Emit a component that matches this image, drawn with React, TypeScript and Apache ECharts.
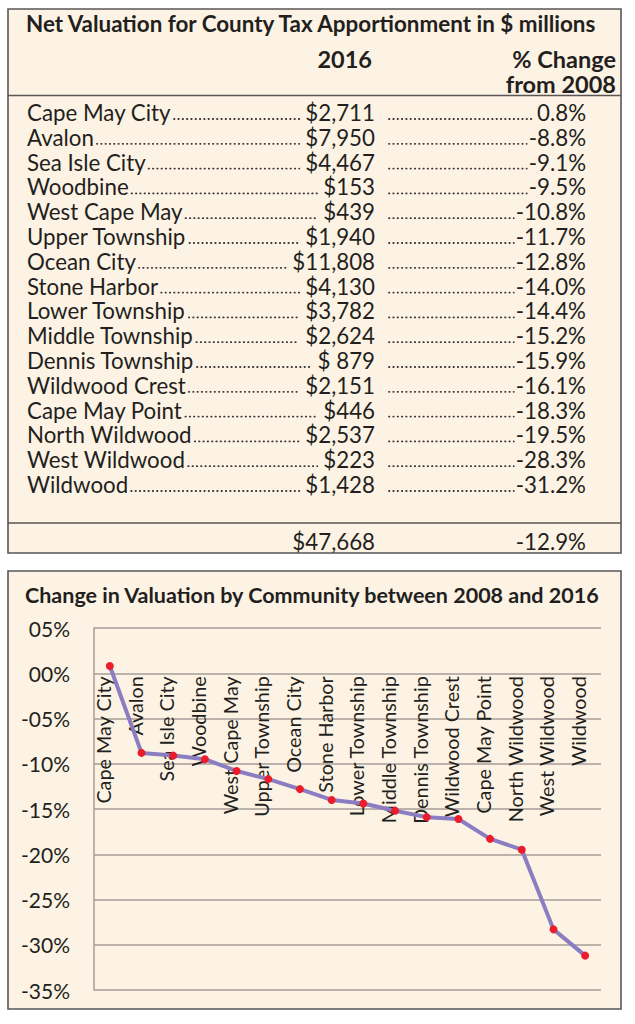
import React, { useEffect, useRef } from "react";
import * as echarts from "echarts";

const communities = [
  "Cape May City", "Avalon", "Sea Isle City", "Woodbine", "West Cape May",
  "Upper Township", "Ocean City", "Stone Harbor", "Lower Township", "Middle Township",
  "Dennis Township", "Wildwood Crest", "Cape May Point", "North Wildwood", "West Wildwood", "Wildwood",
];
const valuation2016 = [
  "$2,711", "$7,950", "$4,467", "$153", "$439", "$1,940", "$11,808", "$4,130",
  "$3,782", "$2,624", "$ 879", "$2,151", "$446", "$2,537", "$223", "$1,428",
];
const pctChange = [0.8, -8.8, -9.1, -9.5, -10.8, -11.7, -12.8, -14.0, -14.4, -15.2, -15.9, -16.1, -18.3, -19.5, -28.3, -31.2];
const totalValuation = "$47,668";
const totalChange = "-12.9%";
const yTicks = { min: -35, max: 5, interval: 5 };

const tableTitle = "Net Valuation for County Tax Apportionment in $ millions";
const chartTitle = "Change in Valuation by Community between 2008 and 2016";

const FONT = "Lato";
const INK = "#231f20";
const BG = "#fdf3e4";
const BORDER = "#5a5655";
const GRIDC = "#a39d98";

function measure(text: string, size: number, bold = false) {
  const c = document.createElement("canvas").getContext("2d")!;
  c.font = `${bold ? "bold " : ""}${size}px ${FONT}`;
  return c.measureText(text).width;
}

export default function App() {
  const ref = useRef<HTMLDivElement>(null);
  useEffect(() => {
    if (!ref.current) return;
    const chart = echarts.init(ref.current, null, { renderer: "svg" });

    const rowFs = 22.3;
    const headFs = 23.5;
    const titleFs = Math.min(23, (23 * 573) / measure(tableTitle, 23, true));
    const chartTitleFs = Math.min(23, (23 * 576) / measure(chartTitle, 23, true));
    const nameX = 27;
    const valRight = 375;
    const pctRight = 586;
    const row0 = 112.5;
    const rowStep = 24.8;

    const els: any[] = [];
    els.push({ type: "rect", z: -10, shape: { x: 8, y: 9, width: 613, height: 544 }, style: { fill: BG, stroke: BORDER, lineWidth: 1.6 } });
    els.push({ type: "rect", z: -10, shape: { x: 8, y: 571, width: 613, height: 438 }, style: { fill: BG, stroke: BORDER, lineWidth: 1.6 } });
    els.push({ type: "line", z: -9, shape: { x1: 8, y1: 95.5, x2: 621, y2: 95.5 }, style: { stroke: BORDER, lineWidth: 1.4 } });
    els.push({ type: "line", z: -9, shape: { x1: 8, y1: 523, x2: 621, y2: 523 }, style: { stroke: BORDER, lineWidth: 1.4 } });

    const txt = (text: string, x: number, y: number, fs: number, align: string, bold = false, lh?: number) => ({
      type: "text", z: 5, x, y,
      style: {
        text, fontFamily: FONT, fontSize: fs, fontWeight: bold ? "bold" : "normal", fill: INK,
        textAlign: align, textVerticalAlign: "middle", verticalAlign: "middle",
        ...(lh ? { lineHeight: lh } : {}),
      },
    });

    els.push(txt(tableTitle, 26, 23, titleFs, "left", true));
    els.push(txt("2016", 372, 59, headFs, "right", true));
    els.push(txt("% Change\nfrom 2008", 616, 71.5, headFs, "right", true, 25));

    const dotStyle = { stroke: "#3a3637", lineWidth: 1.8, lineDash: [0.4, 3.9], lineCap: "round" };
    communities.forEach((name, i) => {
      const y = row0 + i * rowStep;
      const pctText = pctChange[i].toFixed(1) + "%";
      els.push(txt(name, nameX, y, rowFs, "left"));
      els.push(txt(valuation2016[i], valRight, y, rowFs, "right"));
      els.push(txt(pctText, pctRight, y, rowFs, "right"));
      const nw = measure(name, rowFs);
      const vw = measure(valuation2016[i], rowFs);
      const pw = measure(pctText, rowFs);
      const by = y + 6.5;
      els.push({ type: "line", z: 4, shape: { x1: nameX + nw + 3, y1: by, x2: valRight - vw - 6, y2: by }, style: dotStyle });
      els.push({ type: "line", z: 4, shape: { x1: 389, y1: by, x2: pctRight - pw - 2, y2: by }, style: dotStyle });
    });
    els.push(txt(totalValuation, valRight, 541, rowFs, "right"));
    els.push(txt(totalChange, pctRight, 541, rowFs, "right"));

    els.push(txt(chartTitle, 25, 595, chartTitleFs, "left", true));

    const pad2 = (v: number) => (v < 0 ? "-" : "") + String(Math.abs(v)).padStart(2, "0") + "%";

    const gridTop = 628;
    const gridBottom = 34;
    const gridH = 1024 - gridTop - gridBottom;
    // move the top-positioned category axis down onto the 0% value
    const zeroOffset = -(gridH * (yTicks.max - 0)) / (yTicks.max - yTicks.min);

    chart.setOption({
      animation: false,
      backgroundColor: "#ffffff",
      graphic: { elements: els },
      grid: { left: 94, right: 34, top: gridTop, bottom: gridBottom, containLabel: false, outerBoundsMode: "none" },
      xAxis: {
        type: "category",
        data: communities,
        position: "top",
        offset: zeroOffset,
        boundaryGap: true,
        axisLine: { show: false, onZero: false },
        axisTick: { show: false },
        splitLine: { show: false },
        axisLabel: {
          inside: true,
          interval: 0,
          rotate: -90,
          margin: 3,
          fontFamily: FONT,
          fontSize: 19.8,
          color: INK,
          verticalAlign: "bottom",
          lineHeight: 14,
          hideOverlap: false,
        },
      },
      yAxis: {
        type: "value",
        min: yTicks.min,
        max: yTicks.max,
        interval: yTicks.interval,
        axisLine: { show: true, lineStyle: { color: GRIDC, width: 1.5 } },
        axisTick: { show: false },
        splitLine: { show: true, lineStyle: { color: GRIDC, width: 1.5 } },
        axisLabel: { formatter: pad2, fontFamily: FONT, fontSize: 21, color: INK, margin: 24 },
      },
      series: [
        {
          type: "line",
          data: pctChange,
          lineStyle: { color: "#8a7dc2", width: 4 },
          itemStyle: { color: "#ec1c2a" },
          symbol: "circle",
          symbolSize: 8,
          showAllSymbol: true,
          z: 5,
        },
      ],
    });
    return () => chart.dispose();
  }, []);
  return <div ref={ref} style={{ position: "fixed", left: 0, top: 0, width: 635, height: 1024 }} />;
}
